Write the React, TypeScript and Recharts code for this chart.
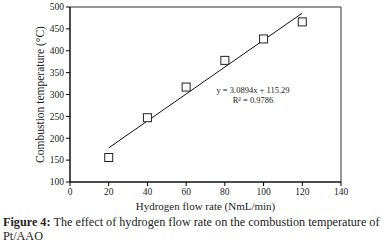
import { ComposedChart, Scatter, Line, XAxis, YAxis, Label, ReferenceArea } from 'recharts'

const flowRates = [20, 40, 60, 80, 100, 120]
const temperatures = [156, 247, 317, 378, 427, 466]
const trendX = [20, 120]
const trendY = [178, 486]
const xTicks = [0, 20, 40, 60, 80, 100, 120, 140]
const yTicks = [100, 150, 200, 250, 300, 350, 400, 450, 500]

const points = flowRates.map((x, i) => ({ x, y: temperatures[i] }))
const trend = trendX.map((x, i) => ({ x, y: trendY[i] }))

const serif = '"Liberation Serif", "Times New Roman", serif'

const SquareMarker = (props: any) => {
  const { cx, cy } = props
  if (cx == null || cy == null) return null
  return <rect x={cx - 4} y={cy - 4} width={8} height={8} fill="#fff" stroke="#222" strokeWidth={1} />
}

export default function App() {
  return (
    <div style={{ position: 'absolute', left: 0, top: 0, width: 389, height: 252, background: '#fff', fontFamily: serif }}>
      <ComposedChart width={389} height={214} margin={{ top: 7, right: 48, left: 30, bottom: 4 }}>
        <ReferenceArea x1={0} x2={140} y1={100} y2={500} fill="none" stroke="#333" strokeWidth={1} />
        <XAxis
          type="number"
          dataKey="x"
          domain={[0, 140]}
          ticks={xTicks}
          height={28}
          tickSize={4}
          tickMargin={2}
          stroke="#000"
          tick={{ fill: '#222', fontSize: 9.5, fontFamily: serif }}
        >
          <Label value="Hydrogen  flow rate (NmL/min)" position="insideBottom" offset={0} style={{ fill: '#222', fontSize: 11, fontFamily: serif }} />
        </XAxis>
        <YAxis
          type="number"
          dataKey="y"
          domain={[100, 500]}
          ticks={yTicks}
          width={40}
          tickSize={4}
          tickMargin={2}
          stroke="#000"
          tick={{ fill: '#222', fontSize: 9.5, fontFamily: serif }}
        >
          <Label value="Combustion  temperature  (°C)" angle={-90} position="insideLeft" offset={10} style={{ textAnchor: 'middle', fill: '#222', fontSize: 11.5, fontFamily: serif }} />
        </YAxis>
        <Line data={trend} dataKey="y" stroke="#111" strokeWidth={1} dot={false} isAnimationActive={false} />
        <Scatter data={points} dataKey="y" shape={SquareMarker} isAnimationActive={false} />
      </ComposedChart>
      <div style={{ position: 'absolute', left: 203, top: 85, width: 100, textAlign: 'center', fontSize: 8.5, lineHeight: '10px', color: '#222' }}>
        <div>y = 3.0894x + 115.29</div>
        <div>R² = 0.9786</div>
      </div>
      <div style={{ position: 'absolute', left: 3, top: 215, width: 386, fontSize: 12.2, lineHeight: '14px', color: '#222' }}>
        <div style={{ whiteSpace: 'nowrap' }}>
          <span style={{ fontWeight: 'bold', marginRight: 3 }}>Figure 4:</span>
          <span>The effect of hydrogen flow rate on the combustion temperature of</span>
        </div>
        <div>Pt/AAO</div>
      </div>
    </div>
  )
}
